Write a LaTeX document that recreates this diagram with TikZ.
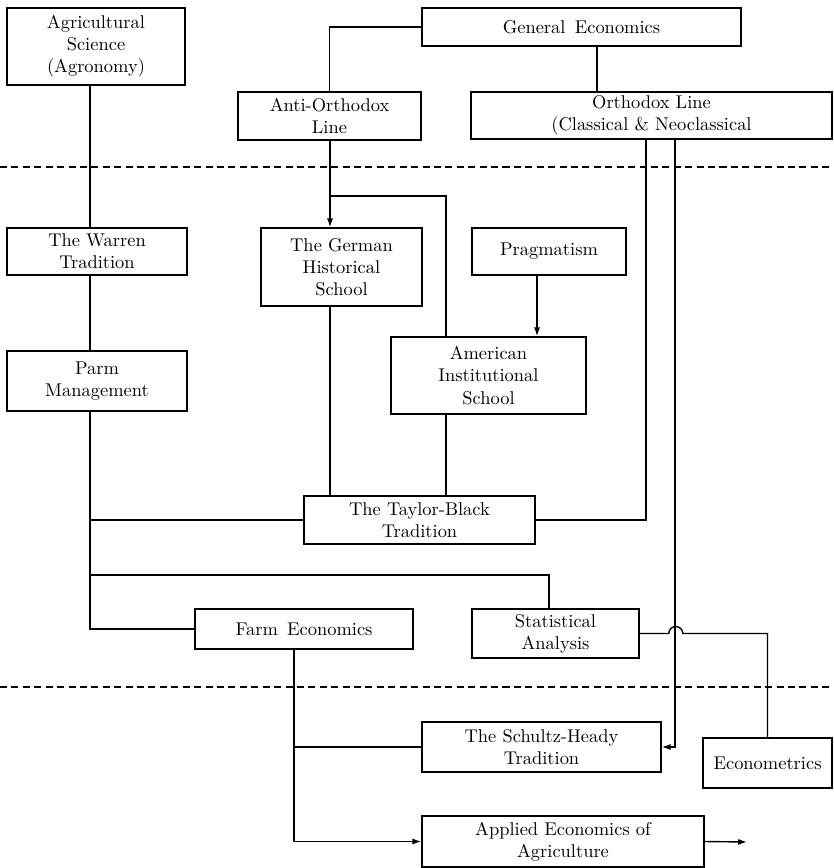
\documentclass[tikz,border=0pt]{standalone}
\usepackage{tikz}
\usetikzlibrary{arrows.meta,calc}

\begin{document}
\begin{tikzpicture}[x=0.02cm,y=-0.02cm,
    blk/.style={draw=black,line width=0.9pt,align=center,inner sep=2pt,fill=white,
      font=\fontsize{10.5}{12.6}\selectfont},
    sz/.style 2 args={minimum width=#1*0.02cm,minimum height=#2*0.02cm},
    ln/.style={line width=0.8pt},
    arr/.style={ln,-{Latex[length=5pt,width=3.5pt]}},
    sep/.style={line width=1.2pt,dash pattern=on 4pt off 2.5pt}]
        \useasboundingbox (0,0) rectangle (833,868);
        % dividing lines
        \draw[sep] (0,167) -- (833,167);
        \draw[sep] (0,687) -- (833,687);
        % columns of the connectors
        \coordinate (xa) at (90,0);
        \coordinate (xb) at (330,0);
        \coordinate (xc) at (446,0);
        \coordinate (xd) at (537,0);
        \coordinate (xe) at (597,0);
        \coordinate (xf) at (646,0);
        \coordinate (xg) at (675,0);
        \coordinate (xi) at (549,0);
        \coordinate (xj) at (294,0);
        \coordinate (jgerm) at (330,196);
        \coordinate (jstat) at (90,575);
        \coordinate (out) at (747,842);
        % top row
        \node[blk,sz={178}{77}] (agri) at (96,46.5) {Agricultural\\Science\\(Agronomy)};
        \node[blk,sz={319}{38}] (geneco) at (581.5,27) {General\enspace Economics};
        \node[blk,sz={183}{48}] (anti) at (329.5,116) {Anti-Orthodox\\Line};
        \node[blk,sz={361}{47}] (ortho) at (651.5,115.5) {Orthodox Line\\(Classical \& Neoclassical};
        % middle part
        \node[blk,sz={180}{47}] (warren) at (97,251.5) {The Warren\\Tradition};
        \node[blk,sz={161}{78}] (german) at (341.5,267) {The German\\Historical\\School};
        \node[blk,sz={154}{47}] (prag) at (549,251.5) {Pragmatism};
        \node[blk,sz={180}{60}] (parm) at (97,381) {Parm\\Management};
        \node[blk,sz={195}{77}] (amer) at (488.5,375.5) {American\\Institutional\\School};
        \node[blk,sz={231}{48}] (taylor) at (419.5,520) {The Taylor-Black\\Tradition};
        \node[blk,sz={218}{40}] (farm) at (304,629) {Farm\enspace Economics};
        \node[blk,sz={167}{49}] (stat) at (555.5,633.5) {Statistical\\Analysis};
        % bottom row
        \node[blk,sz={239}{50}] (schultz) at (541.5,747) {The Schultz-Heady\\Tradition};
        \node[blk,sz={129}{50}] (econo) at (767.5,763) {Econometrics};
        \node[blk,sz={282}{51}] (applied) at (563,841.5) {Applied Economics of\\Agriculture};
        %connectors
        \draw[ln] (geneco.west) -| (anti.north);
        \draw[ln] (geneco.south -| xe) -- (ortho.north -| xe);
        \draw[ln] (agri.south -| xa) -- (warren.north -| xa);
        \draw[ln] (warren.south -| xa) -- (parm.north -| xa);
        \draw[arr] (anti.south -| xb) -- (german.north -| xb);
        \draw[ln] (jgerm) -| (amer.north -| xc);
        \draw[arr] (prag.south -| xd) -- (amer.north -| xd);
        \draw[ln] (german.south -| xb) -- (taylor.north -| xb);
        \draw[ln] (amer.south -| xc) -- (taylor.north -| xc);
        \draw[ln] (ortho.south -| xf) |- (taylor.east);
        \draw[ln] (parm.south -| xa) |- (farm.west);
        \draw[ln] (taylor.west) -- (taylor.west -| xa);
        \draw[ln] (jstat) -| (stat.north -| xi);
        \draw[arr] (ortho.south -| xg) |- (schultz.east);
        % hop over the orthodox line
        \draw[ln] (stat.east) -- ++(29,0) arc[start angle=180,end angle=0,radius=0.14cm] -| (econo.north);
        \draw[arr] (farm.south -| xj) |- (applied.west);
        \draw[ln] (schultz.west) -- (schultz.west -| xj);
        \draw[arr] (applied.east) -- (out);
\end{tikzpicture}
\end{document}
